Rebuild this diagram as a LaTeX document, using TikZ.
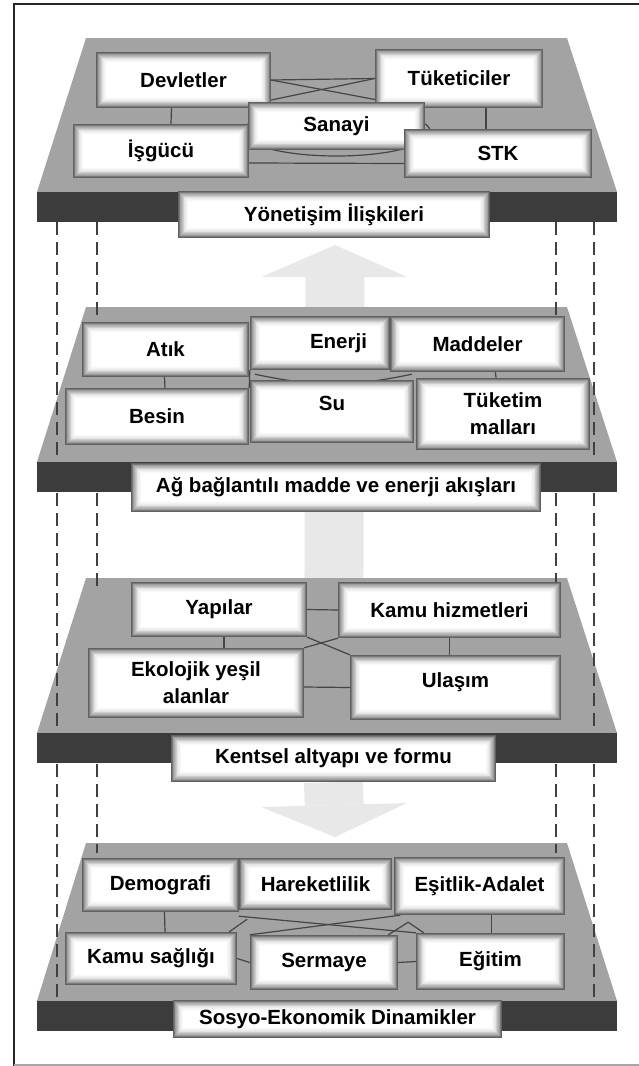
\documentclass[tikz,border=0pt]{standalone}
\usepackage{fontspec}
\setmainfont{Liberation Sans}
\usepackage{tikz}
\usetikzlibrary{arrows.meta,backgrounds}

\definecolor{plategray}{HTML}{A3A3A3}
\definecolor{banddark}{HTML}{3C3C3C}
\definecolor{arrowgray}{HTML}{E8E8E8}
\definecolor{linkgray}{HTML}{454545}

\begin{document}
\begin{tikzpicture}[x=1pt,y=-1pt,
  bx/.style={fill=white,font=\bfseries\fontsize{20.5}{27}\selectfont,align=center,inner sep=2pt,
    path picture={\foreach \k in {0,...,14}{
      \pgfmathtruncatemacro\gv{round(62*(1-\k/14)^2)}
      \fill[black!\gv!white] ([shift={(\k*0.8pt,\k*0.8pt)}]path picture bounding box.south west)
        rectangle ([shift={(-\k*0.8pt,-\k*0.8pt)}]path picture bounding box.north east);}}},
  lnk/.style={draw=linkgray,line width=1.2pt},
  guide/.style={draw=black!75,line width=1.1pt,dash pattern=on 13pt off 7pt},
  bigarrow/.style={draw=arrowgray,line width=59pt,-{Triangle[width=146pt,length=32pt,line width=0pt]}}]
 \useasboundingbox (0,0) rectangle (639,1066);
 \draw[black!85,line width=1.6pt] (14,1066) -- (14,4) -- (639,4);
 \draw[black!35,line width=1.2pt] (14,1065) -- (639,1065);

 % Yonetisim
 \node[bx,minimum width=175pt,minimum height=56pt] (dev) at (183.5,80) {Devletler};
 \node[bx,minimum width=168pt,minimum height=59pt] (tuk) at (459,78.5) {Tüketiciler};
 \node[bx,minimum width=177pt,minimum height=48pt] (san) at (336.5,126) {Sanayi};
 \node[bx,minimum width=176pt,minimum height=54pt] (isg) at (161,151) {İşgücü};
 \node[bx,minimum width=188pt,minimum height=49pt] (stk) at (498,153.5) {STK};
 \node[bx,minimum width=312pt,minimum height=47pt] (lbl1) at (334,214.5) {Yönetişim İlişkileri};

 % madde ve enerji
 \node[bx,minimum width=167pt,minimum height=55pt] (atik) at (165.5,349.5) {Atık};
 \node[bx,minimum width=140pt,minimum height=54pt,text width=94pt,align=right] (ene) at (320,343) {Enerji};
 \node[bx,minimum width=175pt,minimum height=56pt] (mad) at (477.5,344) {Maddeler};
 \node[bx,minimum width=184pt,minimum height=57pt] (bes) at (157,416.5) {Besin};
 \node[bx,minimum width=164pt,minimum height=63pt,text depth=16pt] (su) at (332,411.5) {Su};
 \node[bx,minimum width=174pt,minimum height=72pt] (tm) at (503,414) {Tüketim\\malları};
 \node[bx,minimum width=410pt,minimum height=49pt] (lbl2) at (336,487.5) {Ağ bağlantılı madde ve enerji akışları};

 % kentsel altyapi
 \node[bx,minimum width=176pt,minimum height=55pt] (yap) at (219,609.5) {Yapılar};
 \node[bx,minimum width=223pt,minimum height=56pt] (kam) at (449.5,610) {Kamu hizmetleri};
 \node[bx,minimum width=216pt,minimum height=70pt] (eko) at (196,683) {Ekolojik yeşil\\alanlar};
 \node[bx,minimum width=211pt,minimum height=65pt,text depth=14pt] (ula) at (455.5,687.5) {Ulaşım};
 \node[bx,minimum width=325pt,minimum height=47pt] (lbl3) at (333.5,758.5) {Kentsel altyapı ve formu};

 % sosyo-ekonomik
 \node[bx,minimum width=157pt,minimum height=54pt] (dem) at (160.5,885) {Demografi};
 \node[bx,minimum width=153pt,minimum height=52pt] (har) at (315.5,884) {Hareketlilik};
 \node[bx,minimum width=171pt,minimum height=58pt] (esi) at (479.5,886) {Eşitlik-Adalet};
 \node[bx,minimum width=172pt,minimum height=53pt] (ks) at (151,958.5) {Kamu sağlığı};
 \node[bx,minimum width=148pt,minimum height=55pt] (ser) at (324,962.5) {Sermaye};
 \node[bx,minimum width=149pt,minimum height=57pt] (egi) at (490.5,961.5) {Eğitim};
 \node[bx,minimum width=329pt,minimum height=38pt] (lbl4) at (337.5,1019) {Sosyo-Ekonomik Dinamikler};

 \coordinate (utip) at (335,245);
 \coordinate (dtip) at (335,837);

 \begin{pgfonlayer}{background}
  \draw[bigarrow] (lbl3.north) -- (utip);
  \draw[bigarrow] (lbl3.south) -- (dtip);
  \foreach \t/\b in {38/192,307/462,578/733,843/1001}{
    \fill[plategray] (86,\t) -- (567,\t) -- (617,\b) -- (37,\b) -- cycle;
    \fill[banddark] (37,\b) rectangle (617,\b+30);
  }
  \foreach \a/\t/\b in {222/307/462,493/578/733,764/843/1001}{
    \draw[guide] (57,\a) -- (57,\b);
    \draw[guide] (594,\a) -- (594,\b);
    \draw[guide] (97,\a) -- (97,\t+10);
    \draw[guide] (556,\a) -- (556,\t+10);
  }

  \draw[lnk] (dev.east) -- (tuk.west);
  \draw[lnk] (dev.east) -- ([yshift=-21pt]tuk.west);
  \draw[lnk] ([yshift=-20pt]dev.east) -- (tuk.west);
  \draw[lnk] ([xshift=-12pt]dev.south) -- ([xshift=10pt]isg.north);
  \draw[lnk] ([xshift=27pt]tuk.south) -- ([xshift=-12pt]stk.north);
  \draw[lnk] ([yshift=-12pt]isg.east) -- ([yshift=-10pt]stk.west);
  \draw[lnk] ([yshift=-6pt]san.center) ellipse [x radius=94, y radius=24];

  \draw[lnk] ([xshift=-1pt]atik.south) -- ([xshift=8pt]bes.north);
  \draw[lnk] ([shift={(5pt,-4pt)}]ene.south west) to[bend right=12] ([shift={(22pt,-2pt)}]mad.south west);
  \draw[lnk] ([xshift=18pt]mad.south) -- ([xshift=-7pt]tm.north);
  \draw[lnk] (ene.south west) -- (bes.north east);

  \draw[lnk] (yap.east) -- (kam.west);
  \draw[lnk] (eko.north east) -- (kam.south west);
  \draw[lnk] (yap.south east) -- (ula.north west);
  \draw[lnk] ([xshift=5pt]yap.south) -- ([xshift=28pt]eko.north);
  \draw[lnk] (kam.south) -- ([xshift=-6pt]ula.north);
  \draw[lnk] ([yshift=-4pt]eko.east) -- (ula.west);

  \draw[lnk] ([xshift=4pt]dem.south) -- ([xshift=14pt]ks.north);
  \draw[lnk] ([xshift=12pt]esi.south) -- ([xshift=1pt]egi.north);
  \draw[lnk] ([yshift=-6pt]har.south west) -- (egi.north west);
  \draw[lnk] (ser.north west) -- ([shift={(8pt,-5pt)}]har.south east);
  \draw[lnk] ([xshift=-10pt]ser.north east) -- ([shift={(16pt,-12pt)}]har.south east) -- ([xshift=8pt]egi.north west);
  \draw[lnk] ([xshift=-8pt]ks.north east) -- ([shift={(8pt,-7pt)}]dem.south east);
  \draw[lnk] (ks.east) -- (ser.west);
  \draw[lnk] (ser.east) -- (egi.west);
 \end{pgfonlayer}
\end{tikzpicture}
\end{document}
